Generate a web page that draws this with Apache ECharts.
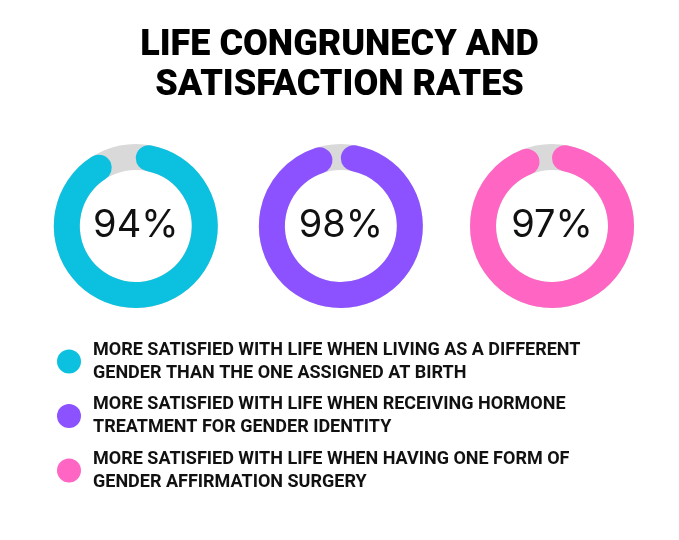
<!DOCTYPE html>
<html>
<head>
<meta charset="utf-8">
<script src="https://cdn.jsdelivr.net/npm/echarts@6/dist/echarts.min.js"></script>
<style>
  html, body { margin: 0; padding: 0; background: #ffffff; }
  #chart { width: 679px; height: 540px; }
</style>
</head>
<body>
<div id="chart"></div>
<script>
// ---- data ----
var titleText = 'LIFE CONGRUNECY AND\nSATISFACTION RATES';
var categories = [
  'MORE SATISFIED WITH LIFE WHEN LIVING AS A DIFFERENT\nGENDER THAN THE ONE ASSIGNED AT BIRTH',
  'MORE SATISFIED WITH LIFE WHEN RECEIVING HORMONE\nTREATMENT FOR GENDER IDENTITY',
  'MORE SATISFIED WITH LIFE WHEN HAVING ONE FORM OF\nGENDER AFFIRMATION SURGERY'
];
var values = [94, 98, 97];
var total = 100;

// ---- styles ----
var colors = ['#0cc0df', '#8c52ff', '#ff66c4'];
var trackColor = '#d9d9d9';
var centersX = ['20%', '50.2%', '81.3%'];
var centerY = 226;
var radius = [56, 82];

var series = [];
values.forEach(function (v, i) {
  // gray track ring
  series.push({
    type: 'pie',
    silent: true,
    center: [centersX[i], centerY],
    radius: radius,
    label: { show: false },
    labelLine: { show: false },
    itemStyle: { color: trackColor },
    data: [{ name: 'track' + i, value: total }],
    z: 1
  });
  // value ring with rounded caps
  series.push({
    type: 'pie',
    silent: true,
    center: [centersX[i], centerY],
    radius: radius,
    startAngle: 90,
    clockwise: true,
    avoidLabelOverlap: false,
    labelLine: { show: false },
    data: [
      {
        name: categories[i],
        value: v,
        itemStyle: { color: colors[i], borderRadius: 13 },
        label: {
          show: true,
          position: 'center',
          formatter: '{c}%',
          fontFamily: 'Inter',
          fontWeight: 400,
          fontSize: 38,
          color: '#111111'
        }
      },
      {
        name: 'rest' + i,
        value: total - v,
        itemStyle: { color: 'rgba(0,0,0,0)' },
        label: { show: false }
      }
    ],
    z: 2
  });
});

var chart = echarts.init(document.getElementById('chart'));
chart.setOption({
  animation: false,
  backgroundColor: '#ffffff',
  title: {
    text: titleText,
    left: 'center',
    top: 21,
    textStyle: {
      fontFamily: 'Roboto',
      fontWeight: 900,
      fontSize: 36,
      lineHeight: 40,
      color: '#000000'
    }
  },
  legend: {
    data: categories,
    orient: 'vertical',
    left: 52,
    top: 336,
    itemGap: 13.5,
    icon: 'circle',
    itemWidth: 24,
    itemHeight: 24,
    selectedMode: false,
    formatter: function (name) { return '{t|' + name + '}'; },
    textStyle: {
      rich: {
        t: {
          fontFamily: 'Roboto',
          fontWeight: 'bold',
          fontSize: 18,
          lineHeight: 23,
          color: '#111111',
          padding: [0, 0, 0, 7]
        }
      }
    }
  },
  series: series
});
</script>
</body>
</html>
